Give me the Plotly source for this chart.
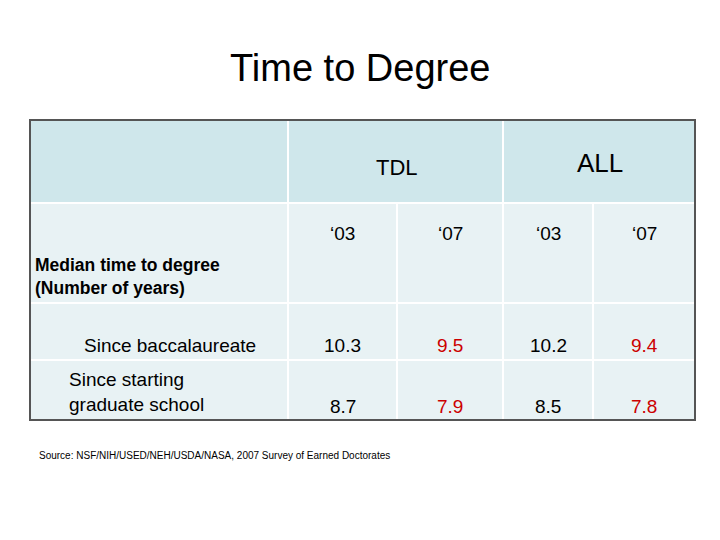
import plotly.graph_objects as go

groups = ["TDL", "ALL"]
years = ["‘03", "‘07", "‘03", "‘07"]
row_labels = ["Since baccalaureate", "Since starting<br>graduate school"]
baccalaureate = [10.3, 9.5, 10.2, 9.4]
grad_school = [8.7, 7.9, 8.5, 7.8]

col_x = [30, 288, 397, 503, 593, 695]
row_y = [120, 203, 303, 360, 420]
col_c = [(col_x[i] + col_x[i+1]) / 2 for i in range(1, 5)]

fig = go.Figure()
shapes = []
shapes.append(dict(type="rect", x0=30, x1=695, y0=120, y1=203, fillcolor="#cfe7eb", line=dict(width=0), layer="below"))
shapes.append(dict(type="rect", x0=30, x1=695, y0=203, y1=420, fillcolor="#e8f2f4", line=dict(width=0), layer="below"))
for y in row_y[1:-1]:
    shapes.append(dict(type="line", x0=30, x1=695, y0=y, y1=y, line=dict(color="white", width=2)))
shapes.append(dict(type="line", x0=288, x1=288, y0=120, y1=420, line=dict(color="white", width=2)))
shapes.append(dict(type="line", x0=503, x1=503, y0=120, y1=420, line=dict(color="white", width=2)))
for x in (397, 593):
    shapes.append(dict(type="line", x0=x, x1=x, y0=203, y1=420, line=dict(color="white", width=2)))
shapes.append(dict(type="rect", x0=30, x1=695, y0=120, y1=420, line=dict(color="#555", width=2)))

ann = []
ann.append(dict(x=360, y=68, text="Time to Degree", font=dict(size=38)))
ann.append(dict(x=397, y=167, text=groups[0], font=dict(size=22)))
ann.append(dict(x=600, y=163, text=groups[1], font=dict(size=26)))
for i, yr in enumerate(years):
    ann.append(dict(x=col_c[i], y=233, text=yr, font=dict(size=19)))
    red = i % 2 == 1
    for val, yy in ((baccalaureate[i], 345), (grad_school[i], 406)):
        ann.append(dict(x=col_c[i], y=yy, text=f"{val}", font=dict(size=19, color="#cc0000" if red else "black")))
ann.append(dict(x=33, y=276, text="<b>Median time to degree<br>(Number of years)</b>", xanchor="left", align="left", font=dict(size=17.5)))
ann.append(dict(x=170, y=345, text=row_labels[0], font=dict(size=19)))
ann.append(dict(x=67, y=392, text=row_labels[1], xanchor="left", align="left", font=dict(size=19)))
ann.append(dict(x=37, y=455, text="Source: NSF/NIH/USED/NEH/USDA/NASA, 2007 Survey of Earned Doctorates", xanchor="left", font=dict(size=10)))
for a in ann:
    a.update(xref="x", yref="y", showarrow=False)
    a.setdefault("xanchor", "center")
    a["font"].setdefault("color", "black")
    a["font"]["family"] = "Liberation Sans, Arial"

fig.update_layout(width=720, height=540, margin=dict(l=0, r=0, t=0, b=0),
                  paper_bgcolor="white", plot_bgcolor="white", shapes=shapes, annotations=ann,
                  xaxis=dict(range=[8, 728], visible=False, fixedrange=True),
                  yaxis=dict(range=[548, 8], visible=False, fixedrange=True), showlegend=False)
fig.write_html("out.html")
